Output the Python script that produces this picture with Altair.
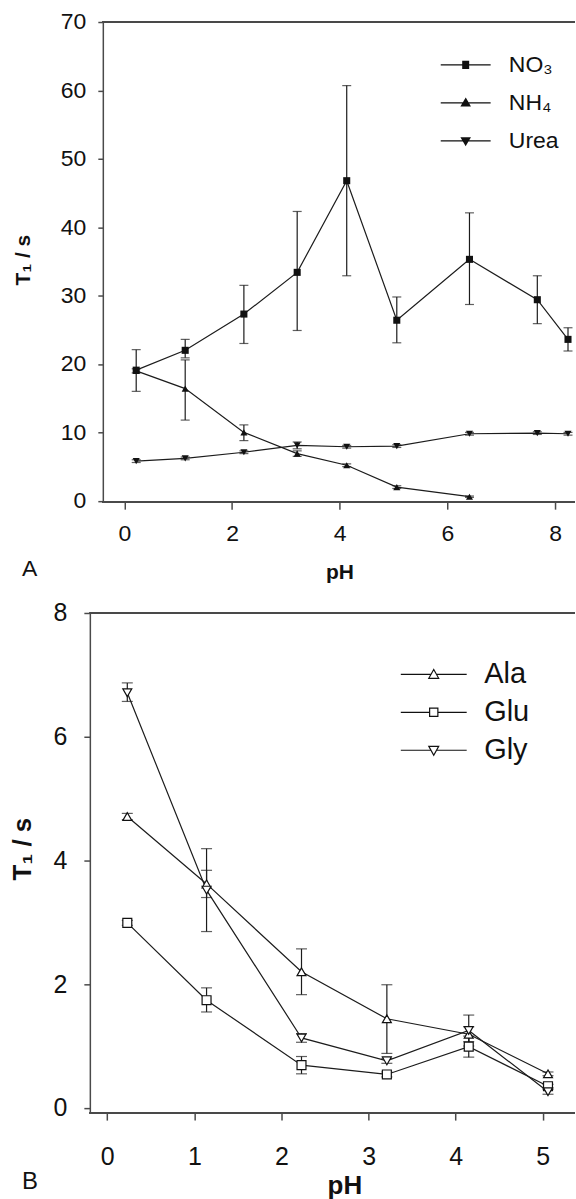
import altair as alt
import pandas as pd

FONT = "Liberation Sans"
AX = "#4a4a4a"
INK = "#111111"

# ---------------- Panel A data ----------------
series_a = ["NO₃", "NH₄", "Urea"]
ph_a = [0.22, 1.13, 2.22, 3.21, 4.13, 5.06, 6.41, 7.67, 8.24]
no3 = [19.1, 22.0, 27.3, 33.4, 46.8, 26.4, 35.3, 29.4, 23.6]
no3_hi = [22.1, 23.6, 31.5, 42.3, 60.7, 29.8, 42.1, 32.9, 25.3]
no3_lo = [16.0, 20.9, 23.0, 24.9, 32.9, 23.1, 28.7, 25.9, 21.9]
ph_nh4 = [0.22, 1.13, 2.22, 3.21, 4.13, 5.06, 6.41]
nh4 = [19.0, 16.4, 10.0, 6.9, 5.2, 2.0, 0.6]
nh4_hi = [19.3, 20.6, 11.1, 7.3, 5.4, 2.2, 0.7]
nh4_lo = [18.7, 11.8, 8.8, 6.5, 5.0, 1.8, 0.5]
urea = [5.8, 6.2, 7.1, 8.1, 7.9, 8.0, 9.8, 9.9, 9.8]
urea_hi = [6.0, 6.4, 7.3, 8.6, 8.1, 8.2, 10.0, 10.1, 10.0]
urea_lo = [5.6, 6.0, 6.9, 7.6, 7.7, 7.8, 9.6, 9.7, 9.6]
ticks_a_x = [0, 2, 4, 6, 8]
ticks_a_y = [0, 10, 20, 30, 40, 50, 60, 70]

# ---------------- Panel B data ----------------
series_b = ["Ala", "Glu", "Gly"]
ph_b = [0.23, 1.14, 2.23, 3.21, 4.15, 5.06]
ala = [4.71, 3.62, 2.20, 1.44, 1.19, 0.55]
ala_hi = [4.76, 3.84, 2.57, 1.99, 1.31, 0.58]
ala_lo = [4.66, 3.40, 1.83, 0.88, 1.07, 0.52]
glu = [2.99, 1.74, 0.69, 0.54, 0.99, 0.35]
glu_hi = [3.03, 1.94, 0.83, 0.58, 1.16, 0.38]
glu_lo = [2.95, 1.55, 0.55, 0.50, 0.82, 0.32]
gly = [6.71, 3.52, 1.13, 0.76, 1.25, 0.26]
gly_hi = [6.87, 4.19, 1.20, 0.80, 1.50, 0.30]
gly_lo = [6.57, 2.85, 1.06, 0.72, 1.00, 0.22]
ticks_b_x = [0, 1, 2, 3, 4, 5]
ticks_b_y = [0, 2, 4, 6, 8]


def frame(names, xs_list, vals, his, los):
    rows = []
    for name, xs, v, h, l in zip(names, xs_list, vals, his, los):
        for a, b, c, d in zip(xs, v, h, l):
            rows.append({"series": name, "pH": a, "T1": b, "hi": c, "lo": d})
    return pd.DataFrame(rows)


df_a = frame(series_a, [ph_a, ph_nh4, ph_a], [no3, nh4, urea],
             [no3_hi, nh4_hi, urea_hi], [no3_lo, nh4_lo, urea_lo])
df_b = frame(series_b, [ph_b, ph_b, ph_b], [ala, glu, gly],
             [ala_hi, glu_hi, gly_hi], [ala_lo, glu_lo, gly_lo])


# ---------- legend glyphs (line + marker) as stroked SVG paths ----------
def solid_square(hw, step=0.07):
    p = "M-2,0H2"
    y = -hw
    while y <= hw + 1e-9:
        p += f"M{-hw:.3f},{y:.3f}H{hw:.3f}"
        y += step
    return p


def solid_triangle(hw, top, bot, up=True, step=0.07):
    p = "M-2,0H2"
    sgn = 1 if up else -1
    p += (f"M0,{sgn * top:.3f}L{hw:.3f},{sgn * bot:.3f}"
          f"L{-hw:.3f},{sgn * bot:.3f}Z")
    y = top
    while y <= bot + 1e-9:
        half = hw * (y - top) / (bot - top)
        p += f"M{-half:.3f},{sgn * y:.3f}H{half:.3f}"
        y += step
    return p


paths_a = [
    solid_square(0.28),
    solid_triangle(0.34, -0.34, 0.24, up=True),
    solid_triangle(0.34, -0.34, 0.24, up=False),
]
paths_b = [
    "M-2,0H-0.17M0.17,0H2M0,-0.3L0.3,0.24L-0.3,0.24Z",
    "M-2,0H-0.25M0.25,0H2M-0.25,-0.25H0.25V0.25H-0.25Z",
    "M-2,0H-0.17M0.17,0H2M0,0.3L0.3,-0.24L-0.3,-0.24Z",
]


def panel(df, names, xdom, frame_x0, ydom, xticks, yticks, w, h, tick_fs, title_fs,
          ytick_size, ylab_pad, xlab_pad, y_offset,
          ytitle_x, ytitle_y, xtitle_x, xtitle_y,
          marker_shapes, marker_size, filled, legend_paths, legend_size,
          legend_fs, legend_x, legend_y, legend_row_pad, legend_label_off,
          cap, letter, letter_fs, letter_dx, letter_dy):
    xenc = alt.X("pH:Q", scale=alt.Scale(domain=xdom, nice=False, zero=False),
                 axis=alt.Axis(values=xticks, format="d", grid=False, tickSize=7,
                               tickWidth=1.5, tickColor=AX, domain=False,
                               labelFont=FONT, labelFontSize=tick_fs,
                               labelColor=INK, labelPadding=xlab_pad,
                               labelBaseline="middle", labelFlush=False, title="pH",
                               titleFont=FONT, titleFontSize=title_fs,
                               titleFontWeight="bold", titleColor=INK,
                               titleX=xtitle_x, titleY=xtitle_y,
                               titleBaseline="middle", titleAlign="center"))
    yenc = alt.Y("T1:Q", scale=alt.Scale(domain=ydom, nice=False, zero=False),
                 axis=alt.Axis(values=yticks, format="d", grid=False, offset=y_offset,
                               tickSize=ytick_size, tickWidth=1.5, tickColor=AX,
                               domainColor=AX, domainWidth=1.5, labelFont=FONT,
                               labelFontSize=tick_fs, labelColor=INK,
                               labelPadding=ylab_pad, labelFlush=False,
                               title="T₁ / s", titleFont=FONT, titleFontSize=title_fs,
                               titleFontWeight="bold", titleColor=INK,
                               titleAngle=270, titleX=ytitle_x, titleY=ytitle_y,
                               titleBaseline="middle", titleAlign="center"))
    base = alt.Chart(df)
    bottom_line = base.mark_rule(color=AX, strokeWidth=1.5).encode(
        x=alt.datum(frame_x0), x2=alt.datum(xdom[1]), y=alt.datum(ydom[0]))
    top_line = base.mark_rule(color=AX, strokeWidth=1.5).encode(
        x=alt.datum(frame_x0), x2=alt.datum(xdom[1]), y=alt.datum(ydom[1]))
    lines = base.mark_line(color="#1c1c1c", strokeWidth=1.2).encode(
        x=xenc, y=yenc, detail="series:N", order="pH:Q")
    bars = base.mark_rule(color="#1c1c1c", strokeWidth=1.2).encode(
        x="pH:Q", y="lo:Q", y2="hi:Q")
    cap_lo = base.mark_tick(orient="horizontal", size=cap, thickness=1.2,
                            color="#1c1c1c").encode(x="pH:Q", y="lo:Q")
    cap_hi = base.mark_tick(orient="horizontal", size=cap, thickness=1.2,
                            color="#1c1c1c").encode(x="pH:Q", y="hi:Q")
    layers = [lines, bottom_line, top_line, bars, cap_lo, cap_hi]
    for name, shp in zip(names, marker_shapes):
        sub = base.transform_filter(alt.datum.series == name)
        if filled:
            m = sub.mark_point(shape=shp, filled=True, color=INK, opacity=1,
                               size=marker_size)
        else:
            m = sub.mark_point(shape=shp, filled=True, fill="white", stroke=INK,
                               strokeWidth=1.2, opacity=1, size=marker_size)
        layers.append(m.encode(x="pH:Q", y="T1:Q"))
    leg = base.transform_filter("false").mark_point(
        filled=False, stroke=INK, strokeWidth=1.2, opacity=1,
        size=legend_size).encode(
        x="pH:Q", y="T1:Q",
        shape=alt.Shape("series:N",
                        scale=alt.Scale(domain=names, range=legend_paths),
                        legend=alt.Legend(orient="none", legendX=legend_x,
                                          legendY=legend_y, title=None, padding=0,
                                          labelFont=FONT, labelFontSize=legend_fs,
                                          labelColor=INK, labelOffset=legend_label_off,
                                          symbolSize=legend_size,
                                          symbolStrokeWidth=1.2,
                                          symbolStrokeColor=INK,
                                          rowPadding=legend_row_pad)))
    layers.append(leg)
    ch = alt.layer(*layers).properties(
        width=w, height=h,
        title=alt.TitleParams(letter, orient="bottom", anchor="start", frame="group",
                              dx=letter_dx, dy=letter_dy, font=FONT,
                              fontSize=letter_fs, fontWeight="normal", color=INK))
    return ch


chart_a = panel(df_a, series_a, [-0.4, 8.37], -0.4, [-0.2, 70], ticks_a_x, ticks_a_y,
                473, 481, 23, 21, 5, 12, 24.5, 0,
                -79.3, 238, 237, 70,
                ["square", "triangle-up", "triangle-down"], 50, True,
                paths_a, 625, 23, 350, 29.5, 12, 29.7, 9, "A", 23, -81, -28)
chart_b = panel(df_b, series_b, [-0.051, 5.37], -0.2, [-0.085, 8], ticks_b_x,
                ticks_b_y, 473, 501, 25, 26, 6, 17, 36, 13,
                -67.3, 236, 242, 72.7,
                ["triangle-up", "square", "triangle-down"], 80, False,
                paths_b, 1089, 29, 314, 44, 5, 33, 11, "B", 24, -81, -33)

chart = alt.vconcat(chart_a, chart_b, spacing=19).resolve_scale(
    shape="independent").resolve_legend(shape="independent").properties(
    padding={"left": 9, "top": 10, "right": 0, "bottom": 0}
).configure_view(stroke=None)

chart.save("out.html", embed_options={"renderer": "svg", "actions": False})
